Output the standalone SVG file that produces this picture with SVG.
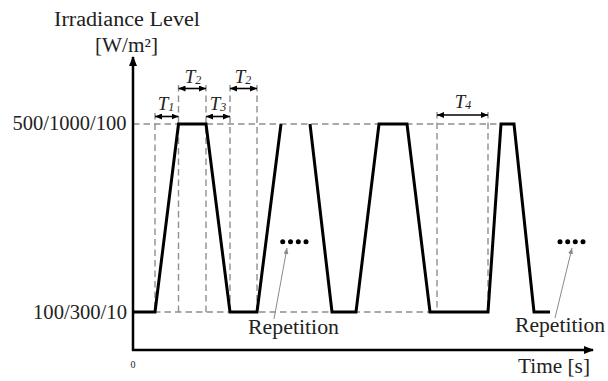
<svg xmlns="http://www.w3.org/2000/svg" width="608" height="381" viewBox="0 0 608 381">
<style>
text{font-family:"Liberation Serif","DejaVu Serif",serif;fill:#222}
.lbl{font-size:20px}
.t{font-size:19px;font-style:italic;text-anchor:middle}
.sub{font-size:12px}
.dash{stroke:#8f8f8f;stroke-width:1.4;stroke-dasharray:6.5 4;fill:none}
.wave{stroke:#000;stroke-width:3;fill:none;stroke-linejoin:miter}
.axis{stroke:#000;stroke-width:2.5;fill:none}
.dim{stroke:#000;stroke-width:1.6;fill:none;marker-start:url(#ds);marker-end:url(#de)}
.ptr{stroke:#8a8a8a;stroke-width:1;fill:none;marker-end:url(#pg)}
</style>
<defs>
<marker id="ax" viewBox="0 0 10 8" refX="9" refY="4" markerWidth="10" markerHeight="8" markerUnits="userSpaceOnUse" orient="auto"><path d="M0,0 L10,4 L0,8 z" fill="#000"/></marker>
<marker id="de" viewBox="0 0 7 6" refX="7" refY="3" markerWidth="7" markerHeight="6" markerUnits="userSpaceOnUse" orient="auto"><path d="M0,0 L7,3 L0,6 z" fill="#000"/></marker>
<marker id="ds" viewBox="0 0 7 6" refX="0" refY="3" markerWidth="7" markerHeight="6" markerUnits="userSpaceOnUse" orient="auto"><path d="M7,0 L0,3 L7,6 z" fill="#000"/></marker>
<marker id="pg" viewBox="0 0 6 5" refX="6" refY="2.5" markerWidth="6" markerHeight="5" markerUnits="userSpaceOnUse" orient="auto"><path d="M0,0 L6,2.5 L0,5 z" fill="#8a8a8a"/></marker>
</defs>

<g id="guides">
<line class="dash" x1="133" y1="124" x2="500" y2="124"/>
<line class="dash" x1="133" y1="312" x2="488" y2="312"/>
<line class="dash" x1="155" y1="113" x2="155" y2="312"/>
<line class="dash" x1="178.5" y1="85" x2="178.5" y2="312"/>
<line class="dash" x1="206" y1="85" x2="206" y2="312"/>
<line class="dash" x1="230" y1="85" x2="230" y2="312"/>
<line class="dash" x1="257" y1="85" x2="257" y2="312"/>
<line class="dash" x1="437" y1="112" x2="437" y2="312"/>
<line class="dash" x1="488" y1="112" x2="488" y2="312"/>
</g>

<g id="axes">
<line class="axis" x1="133" y1="351" x2="133" y2="57" marker-end="url(#ax)"/>
<line class="axis" x1="132" y1="350" x2="593" y2="350" marker-end="url(#ax)"/>
</g>

<g id="waveform">
<polyline class="wave" points="133,312 155,312 178.5,124 206,124 230,312 257,312 281,124"/>
<polyline class="wave" points="310,124 332,312 356,312 379,124 407,124 430,312 488,312 501,124 514,124 534,312 550,312"/>
</g>

<g id="connectors">
<line class="dim" x1="155" y1="116.5" x2="178.5" y2="116.5"/>
<line class="dim" x1="178.5" y1="88.5" x2="206" y2="88.5"/>
<line class="dim" x1="206" y1="116.5" x2="230" y2="116.5"/>
<line class="dim" x1="230" y1="88.5" x2="257" y2="88.5"/>
<line class="dim" x1="437" y1="115" x2="488" y2="115"/>
<line class="ptr" x1="274" y1="319" x2="287" y2="248"/>
<line class="ptr" x1="555" y1="318" x2="572" y2="248"/>
</g>

<g id="dots1">
<circle cx="282.7" cy="241.7" r="2.5"/><circle cx="290.5" cy="241.7" r="2.5"/><circle cx="298.3" cy="241.7" r="2.5"/><circle cx="306" cy="241.7" r="2.5"/>
</g>
<g id="dots2">
<circle cx="560" cy="241.7" r="2.5"/><circle cx="567.7" cy="241.7" r="2.5"/><circle cx="575.3" cy="241.7" r="2.5"/><circle cx="583" cy="241.7" r="2.5"/>
</g>

<g id="labels">
<text class="lbl" x="54" y="25.5" textLength="146" lengthAdjust="spacingAndGlyphs">Irradiance Level</text>
<text class="lbl" x="95" y="51.5" textLength="63" lengthAdjust="spacingAndGlyphs">[W/m²]</text>
<text class="lbl" x="12.5" y="129.5" textLength="114" lengthAdjust="spacingAndGlyphs">500/1000/100</text>
<text class="lbl" x="33" y="318.5" textLength="94" lengthAdjust="spacingAndGlyphs">100/300/10</text>
<text x="133" y="368" font-size="10" text-anchor="middle">0</text>
<text class="lbl" x="518" y="373" textLength="72" lengthAdjust="spacingAndGlyphs">Time [s]</text>
<text class="lbl" x="248" y="334" textLength="91" lengthAdjust="spacingAndGlyphs">Repetition</text>
<text class="lbl" x="515" y="332" textLength="90" lengthAdjust="spacingAndGlyphs">Repetition</text>
<text class="t" x="166" y="110">T<tspan class="sub" dy="1">1</tspan></text>
<text class="t" x="193" y="83">T<tspan class="sub" dy="1">2</tspan></text>
<text class="t" x="218" y="110">T<tspan class="sub" dy="1">3</tspan></text>
<text class="t" x="243" y="83">T<tspan class="sub" dy="1">2</tspan></text>
<text class="t" x="463" y="108">T<tspan class="sub" dy="1">4</tspan></text>
</g>
</svg>
